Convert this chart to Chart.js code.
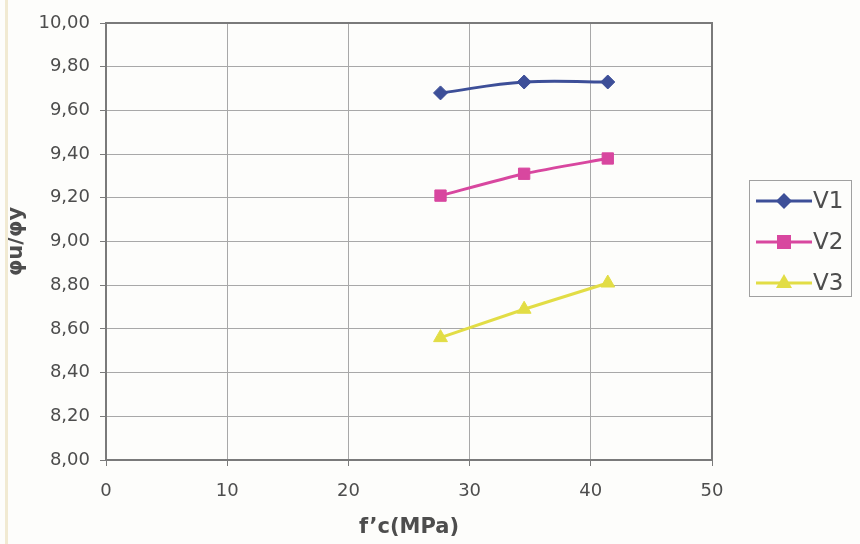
<!DOCTYPE html>
<html>
<head>
<meta charset="utf-8">
<script src="https://cdn.jsdelivr.net/npm/chart.js@4"></script>
<style>
  html, body { margin: 0; padding: 0; background: #fdfdfb; }
  #wrap { position: relative; width: 860px; height: 544px; }
  #wrap:before { content: ""; position: absolute; left: 5px; top: 0; width: 3px; height: 544px; background: #f1ead2; }
</style>
</head>
<body>
<div id="wrap"><canvas id="chart" width="860" height="544"></canvas></div>
<script>
// f'c values (MPa)
var fc = [27.6, 34.5, 41.4];

// phi_u / phi_y per series
var v1 = [9.68, 9.73, 9.73];
var v2 = [9.21, 9.31, 9.38];
var v3 = [8.56, 8.69, 8.81];

var seriesNames = ['V1', 'V2', 'V3'];
var xTicks = [0, 10, 20, 30, 40, 50];

const FONT = '"DejaVu Sans", Verdana, sans-serif';
const TEXT = '#4d4d4d';
const GRID = '#a8a8a8';
const FRAME = '#7a7a7a';

function pts(ys) {
    return fc.map(function (x, i) { return { x: x, y: ys[i] }; });
}

// frame around plot + excel style legend box
var excelLegend = {
    id: 'excelLegend',
    afterDraw: function (chart) {
        var c = chart.ctx;
        var a = chart.chartArea;
        c.save();
        c.strokeStyle = FRAME;
        c.lineWidth = 2;
        c.strokeRect(a.left, a.top, a.right - a.left, a.bottom - a.top);

        // legend box
        c.lineWidth = 1;
        c.strokeStyle = '#a0a0a0';
        c.strokeRect(749.5, 180.5, 102, 116);

        chart.data.datasets.forEach(function (ds, i) {
            var y = 201 + i * 41;
            c.strokeStyle = ds.borderColor;
            c.lineWidth = 3;
            c.beginPath();
            c.moveTo(756, y);
            c.lineTo(812, y);
            c.stroke();
            c.fillStyle = ds.backgroundColor;
            c.beginPath();
            if (ds.pointStyle === 'rectRot') {
                c.moveTo(784, y - 8); c.lineTo(792, y); c.lineTo(784, y + 8); c.lineTo(776, y);
            } else if (ds.pointStyle === 'rect') {
                c.rect(777, y - 7, 14, 14);
            } else {
                c.moveTo(784, y - 9); c.lineTo(792, y + 5); c.lineTo(776, y + 5);
            }
            c.closePath();
            c.fill();
            c.fillStyle = TEXT;
            c.font = '23px ' + FONT;
            c.textBaseline = 'middle';
            c.fillText(ds.label, 813, y + 1);
        });
        c.restore();
    }
};

var ctx = document.getElementById('chart').getContext('2d');
var chart = new Chart(ctx, {
    type: 'line',
    data: {
        datasets: [{
            label: seriesNames[0],
            data: pts(v1),
            borderColor: '#3d4f98',
            backgroundColor: '#3d4f98',
            pointStyle: 'rectRot',
            pointRadius: 7,
            tension: 0.4
        },
        {
            label: seriesNames[1],
            data: pts(v2),
            borderColor: '#d8479f',
            backgroundColor: '#d8479f',
            pointStyle: 'rect',
            pointRadius: 8,
            tension: 0.2
        },
        {
            label: seriesNames[2],
            data: pts(v3),
            borderColor: '#e2dd45',
            backgroundColor: '#e2dd45',
            pointStyle: 'triangle',
            pointRadius: 8,
            tension: 0
        }]
    },
    options: {
        responsive: false,
        animation: false,
        elements: { line: { borderWidth: 3 } },
        layout: { padding: { left: 0, right: 148, top: 23, bottom: 0 } },
        plugins: {
            legend: { display: false },
            tooltip: { enabled: false }
        },
        scales: {
            x: {
                type: 'linear',
                min: 0,
                max: 50,
                afterBuildTicks: function (axis) {
                    axis.ticks = xTicks.map(function (v) { return { value: v }; });
                },
                afterFit: function (axis) { axis.height = 84; },
                grid: { color: GRID, tickLength: 6, tickColor: FRAME },
                border: { display: false },
                ticks: {
                    color: TEXT,
                    padding: 15,
                    maxRotation: 0,
                    font: { family: FONT, size: 18 }
                },
                title: {
                    display: true,
                    text: 'f’c(MPa)',
                    color: TEXT,
                    padding: { top: 6 },
                    font: { family: FONT, size: 21, weight: 'bold' }
                }
            },
            y: {
                min: 8,
                max: 10,
                afterFit: function (axis) { axis.width = 106; },
                grid: { color: GRID, tickLength: 6, tickColor: FRAME },
                border: { display: false },
                ticks: {
                    stepSize: 0.2,
                    color: TEXT,
                    padding: 10,
                    font: { family: FONT, size: 18 },
                    callback: function (v) { return v.toFixed(2).replace('.', ','); }
                },
                title: {
                    display: true,
                    text: 'φu/φy',
                    color: TEXT,
                    padding: { bottom: 0 },
                    font: { family: FONT, size: 21, weight: 'bold' }
                }
            }
        }
    },
    plugins: [excelLegend]
});
</script>
</body>
</html>
